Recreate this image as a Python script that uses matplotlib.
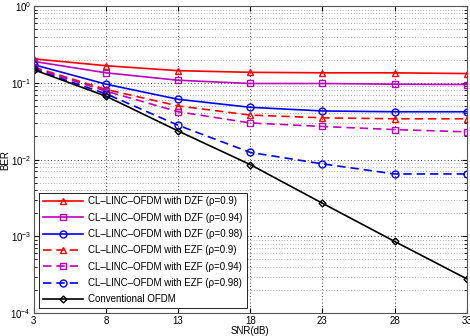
import numpy as np
import matplotlib
matplotlib.use("Agg")
import matplotlib.pyplot as plt
from matplotlib.ticker import LogLocator, NullFormatter, FixedLocator

plt.rcParams['font.family'] = ['Liberation Sans', 'DejaVu Sans']

# ---------- data ----------
snr = [3, 8, 13, 18, 23, 28, 33]

dzf_090 = [0.205, 0.167, 0.144, 0.137, 0.135, 0.135, 0.132]
dzf_094 = [0.190, 0.135, 0.108, 0.098, 0.098, 0.096, 0.095]
dzf_098 = [0.172, 0.096, 0.061, 0.048, 0.043, 0.042, 0.042]
ezf_090 = [0.160, 0.082, 0.050, 0.038, 0.035, 0.034, 0.034]
ezf_094 = [0.155, 0.078, 0.042, 0.030, 0.027, 0.0246, 0.023]
ezf_098 = [0.150, 0.072, 0.028, 0.0124, 0.0088, 0.0065, 0.0065]
conv    = [0.148, 0.067, 0.0236, 0.0086, 0.0027, 0.00086, 0.00028]

labels = [
    u"CL\u2013LINC\u2013OFDM with DZF (\u03c1=0.9)",
    u"CL\u2013LINC\u2013OFDM with DZF (\u03c1=0.94)",
    u"CL\u2013LINC\u2013OFDM with DZF (\u03c1=0.98)",
    u"CL\u2013LINC\u2013OFDM with EZF (\u03c1=0.9)",
    u"CL\u2013LINC\u2013OFDM with EZF (\u03c1=0.94)",
    u"CL\u2013LINC\u2013OFDM with EZF (\u03c1=0.98)",
    "Conventional OFDM",
]

fig = plt.figure(figsize=(4.7, 3.36), dpi=100)
ax = fig.add_axes([0.072, 0.068, 0.921, 0.914])

styles = [
    (dzf_090, 'r', '-', '^'),
    (dzf_094, 'm', '-', 's'),
    (dzf_098, 'b', '-', 'o'),
    (ezf_090, 'r', '--', '^'),
    (ezf_094, 'm', '--', 's'),
    (ezf_098, 'b', '--', 'o'),
    (conv, 'k', '-', 'D'),
]
for (ys, c, ls, mk), lab in zip(styles, labels):
    ms = 3.5 if mk == 'D' else 5
    ax.plot(snr, ys, color=c, ls=ls, marker=mk, ms=ms, mfc='none', mew=1.0,
            lw=1.2, label=lab, dashes=(5, 3) if ls == '--' else (None, None))

ax.set_yscale('log')
ax.set_xlim(3, 33)
ax.set_ylim(1e-4, 1)
ax.xaxis.set_major_locator(FixedLocator(snr))
ax.yaxis.set_major_locator(LogLocator(base=10, numticks=10))
ax.yaxis.set_minor_locator(LogLocator(base=10, subs=np.arange(2, 10), numticks=10))
ax.yaxis.set_minor_formatter(NullFormatter())

ax.grid(True, which='major', color='k', ls=(0, (1, 3)), lw=0.6)
ax.grid(True, which='minor', axis='y', color='k', ls=(0, (1, 3)), lw=0.5, alpha=0.6)
ax.tick_params(direction='in', labelsize=7, top=True, right=True, which='both', pad=2)
ax.tick_params(which='minor', length=2)
for s in ax.spines.values():
    s.set_color('#555555')

ax.set_xlabel('SNR(dB)', fontsize=7, labelpad=0)
ax.set_ylabel('BER', fontsize=7, labelpad=0)

leg = ax.legend(loc='lower left', fontsize=7, handlelength=4.2, borderpad=0.4,
                labelspacing=0.65, handletextpad=0.5, fancybox=False,
                bbox_to_anchor=(0.0, 0.0))
leg.get_frame().set_edgecolor('k')
leg.get_frame().set_linewidth(0.6)
leg.get_frame().set_alpha(1)

fig.savefig('out.png', dpi=100)
